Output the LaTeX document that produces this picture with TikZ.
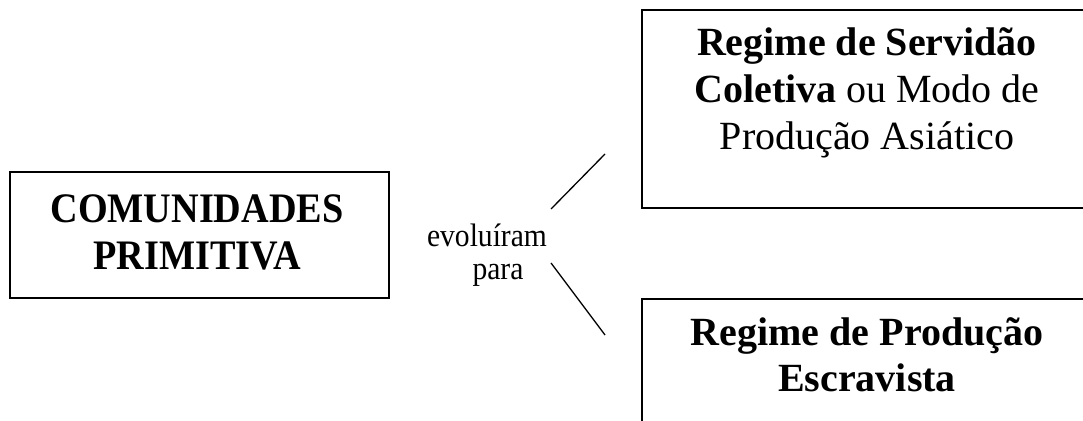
\documentclass[tikz,border=0pt]{standalone}
\usepackage{fontspec}
\setmainfont{Liberation Serif}
\newfontfamily\narrowserif{Liberation Serif}[FakeStretch=0.91]
\begin{document}
\begin{tikzpicture}[x=1pt,y=-1pt,
  boxline/.style={draw=black,line width=1.6pt},
  boxtext/.style={anchor=base,inner sep=0pt,font=\fontsize{40}{46.5}\selectfont},
  primtext/.style={anchor=base,inner sep=0pt,font=\narrowserif\fontsize{42}{47}\selectfont},
  linktext/.style={anchor=base,inner sep=0pt,font=\narrowserif\fontsize{32.5}{33}\selectfont},
  link/.style={draw=black,line width=1.3pt}]
\useasboundingbox (0,0) rectangle (1083,420);
% boxes
\draw[boxline] (10,172) rectangle (389,298);
\draw[boxline] (642,10) rectangle (1095,208);
\draw[boxline] (642,299) rectangle (1095,430);
% texts
\node[primtext] (prim) at (197,222) {\begin{tabular}[t]{@{}c@{}}\textbf{COMUNIDADES}\\\textbf{PRIMITIVA}\end{tabular}};
\node[boxtext] (serv) at (867,56) {\begin{tabular}[t]{@{}c@{}}\textbf{Regime de Servidão}\\\textbf{Coletiva} ou Modo de\\Produção Asiático\end{tabular}};
\node[boxtext] (escr) at (867,345) {\begin{tabular}[t]{@{}c@{}}\textbf{Regime de Produção}\\\textbf{Escravista}\end{tabular}};
\node[linktext] (evol) at (487,246) {\begin{tabular}[t]{@{}c@{}}evoluíram\\\hspace*{22pt}para\end{tabular}};
% connectors
\coordinate (a1) at (551,209);
\coordinate (a2) at (605,154);
\coordinate (b1) at (551,263);
\coordinate (b2) at (605,335);
\draw[link] (a1) -- (a2);
\draw[link] (b1) -- (b2);
\end{tikzpicture}
\end{document}
